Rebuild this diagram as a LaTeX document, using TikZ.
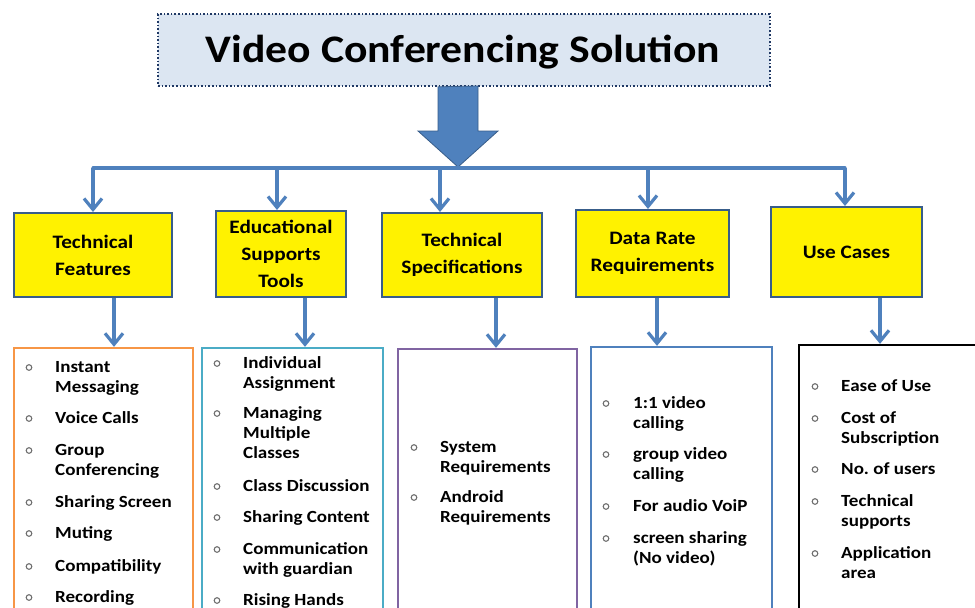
\documentclass[tikz,border=0pt]{standalone}
\usepackage{fontspec}
\setmainfont{Carlito}[FakeStretch=1.12]
\usetikzlibrary{arrows.meta}
\frenchspacing
\definecolor{arrowblue}{HTML}{4F81BD}
\definecolor{darkblue}{HTML}{385D8A}
\definecolor{titlefill}{HTML}{DCE6F2}
\definecolor{titleborder}{HTML}{1F3864}
\definecolor{borange}{HTML}{F79646}
\definecolor{bcyan}{HTML}{4BACC6}
\definecolor{bpurple}{HTML}{8064A2}
\definecolor{bblue}{HTML}{4F81BD}
\definecolor{bulletgray}{HTML}{6E6E6E}
\newcommand{\stk}[1]{\begin{tabular}[t]{@{}l@{}}#1\end{tabular}}
\begin{document}
\begin{tikzpicture}[x=1pt,y=-1pt,
  catbox/.style={draw=darkblue, line width=2pt, fill=yellow, font=\fontsize{19}{27}\selectfont\bfseries, align=center, inner sep=0pt},
  listbox/.style={draw=#1, line width=2.3pt, fill=white, inner sep=0pt},
  itemtxt/.style={anchor=base west, inner sep=0pt, font=\fontsize{17}{20}\selectfont\bfseries},
  conn/.style={draw=arrowblue, line width=3.2pt, -{Straight Barb[length=11pt,width=18pt]}},
  bar/.style={draw=arrowblue, line width=3.2pt},
  bulletc/.style={draw=bulletgray, line width=1.1pt}
]
\useasboundingbox (0,0) rectangle (975,608);
\clip (0,0) rectangle (975,608);
\fill[white] (0,0) rectangle (975,608);

% title
\node[draw=titleborder, dotted, line width=1.6pt, fill=titlefill, minimum width=612pt, minimum height=72pt, inner sep=0pt] (title) at (464,50) {};
\node[anchor=base, inner sep=0pt, font=\fontsize{39}{44}\selectfont\bfseries] (titletxt) at (463,62) {Video Conferencing Solution};

% big arrow
\draw[fill=arrowblue, draw=darkblue, line width=0.8pt] (title.south -| 438,0) -- (478,86) -- (478,131) -- (498,131) -- (458,167) -- (418,131) -- (438,131) -- cycle;

% category boxes
\node[catbox, minimum width=158pt, minimum height=84pt] (c1) at (93,255) {Technical\\Features};
\node[catbox, minimum width=130pt, minimum height=86pt] (c2) at (281,254) {Educational\\Supports\\Tools};
\node[catbox, minimum width=160pt, minimum height=84pt] (c3) at (462,255) {Technical\\Specifications};
\node[catbox, minimum width=153pt, minimum height=87pt] (c4) at (652.5,253.5) {Data Rate\\Requirements};
\node[catbox, minimum width=151pt, minimum height=90pt] (c5) at (846.5,252) {Use Cases};

% distribution bar
\coordinate (b1) at (93,168);
\coordinate (b2) at (277,168);
\coordinate (b3) at (440,168);
\coordinate (b4) at (648,168);
\coordinate (b5) at (845,168);
\draw[bar, line cap=round] (b1) -- (b5);
\draw[conn] (b1) -- (b1 |- c1.north);
\draw[conn] (b2) -- (b2 |- c2.north);
\draw[conn] (b3) -- (b3 |- c3.north);
\draw[conn] (b4) -- (b4 |- c4.north);
\draw[conn] (b5) -- (b5 |- c5.north);

% list boxes
\node[listbox=borange, minimum width=179pt, minimum height=300pt] (l1) at (103.5,498) {};
\node[listbox=bcyan, minimum width=181pt, minimum height=300pt] (l2) at (292.5,498) {};
\node[listbox=bpurple, minimum width=179pt, minimum height=299pt] (l3) at (487.5,498.5) {};
\node[listbox=bblue, minimum width=181pt, minimum height=301pt] (l4) at (681.5,497.5) {};
\node[listbox=black, minimum width=191pt, minimum height=303pt] (l5) at (894.5,496.5) {};

\coordinate (d1) at (114,297);
\coordinate (d2) at (305,297);
\coordinate (d3) at (496,297);
\coordinate (d4) at (657,297);
\coordinate (d5) at (880,297);
\draw[conn] (d1 |- c1.south) -- (d1 |- l1.north);
\draw[conn] (d2 |- c2.south) -- (d2 |- l2.north);
\draw[conn] (d3 |- c3.south) -- (d3 |- l3.north);
\draw[conn] (d4 |- c4.south) -- (d4 |- l4.north);
\draw[conn] (d5 |- c5.south) -- (d5 |- l5.north);

% list 1
\foreach \y in {372,423,455,507,538,571,602} \draw[bulletc] (29,\y-4.5) circle (2.8);
\node[itemtxt] (t11) at (55,372) {\stk{Instant\\Messaging}};
\node[itemtxt] (t12) at (55,423) {Voice Calls};
\node[itemtxt] (t13) at (55,455) {\stk{Group\\Conferencing}};
\node[itemtxt] (t14) at (55,507) {Sharing Screen};
\node[itemtxt] (t15) at (55,538) {Muting};
\node[itemtxt] (t16) at (55,571) {Compatibility};
\node[itemtxt] (t17) at (55,602) {Recording};

% list 2
\foreach \y in {368,418,491,522,554,605} \draw[bulletc] (217,\y-4.5) circle (2.8);
\node[itemtxt] (t21) at (243,368) {\stk{Individual\\Assignment}};
\node[itemtxt] (t22) at (243,418) {\stk{Managing\\Multiple\\Classes}};
\node[itemtxt] (t23) at (243,491) {Class Discussion};
\node[itemtxt] (t24) at (243,522) {Sharing Content};
\node[itemtxt] (t25) at (243,554) {\stk{Communication\\with guardian}};
\node[itemtxt] (t26) at (243,605) {Rising Hands};

% list 3
\foreach \y in {452,502} \draw[bulletc] (414,\y-4.5) circle (2.8);
\node[itemtxt] (t31) at (440,452) {\stk{System\\Requirements}};
\node[itemtxt] (t32) at (440,502) {\stk{Android\\Requirements}};

% list 4
\foreach \y in {408,459,511,543} \draw[bulletc] (606,\y-4.5) circle (2.8);
\node[itemtxt] (t41) at (633,408) {\stk{1:1 video\\calling}};
\node[itemtxt] (t42) at (633,459) {\stk{group video\\calling}};
\node[itemtxt] (t43) at (633,511) {For audio VoiP};
\node[itemtxt] (t44) at (633,543) {\stk{screen sharing\\(No video)}};

% list 5
\foreach \y in {391,423,474,506,558} \draw[bulletc] (815,\y-4.5) circle (2.8);
\node[itemtxt] (t51) at (841,391) {Ease of Use};
\node[itemtxt] (t52) at (841,423) {\stk{Cost of\\Subscription}};
\node[itemtxt] (t53) at (841,474) {No.\ of users};
\node[itemtxt] (t54) at (841,506) {\stk{Technical\\supports}};
\node[itemtxt] (t55) at (841,558) {\stk{Application\\area}};
\end{tikzpicture}
\end{document}
